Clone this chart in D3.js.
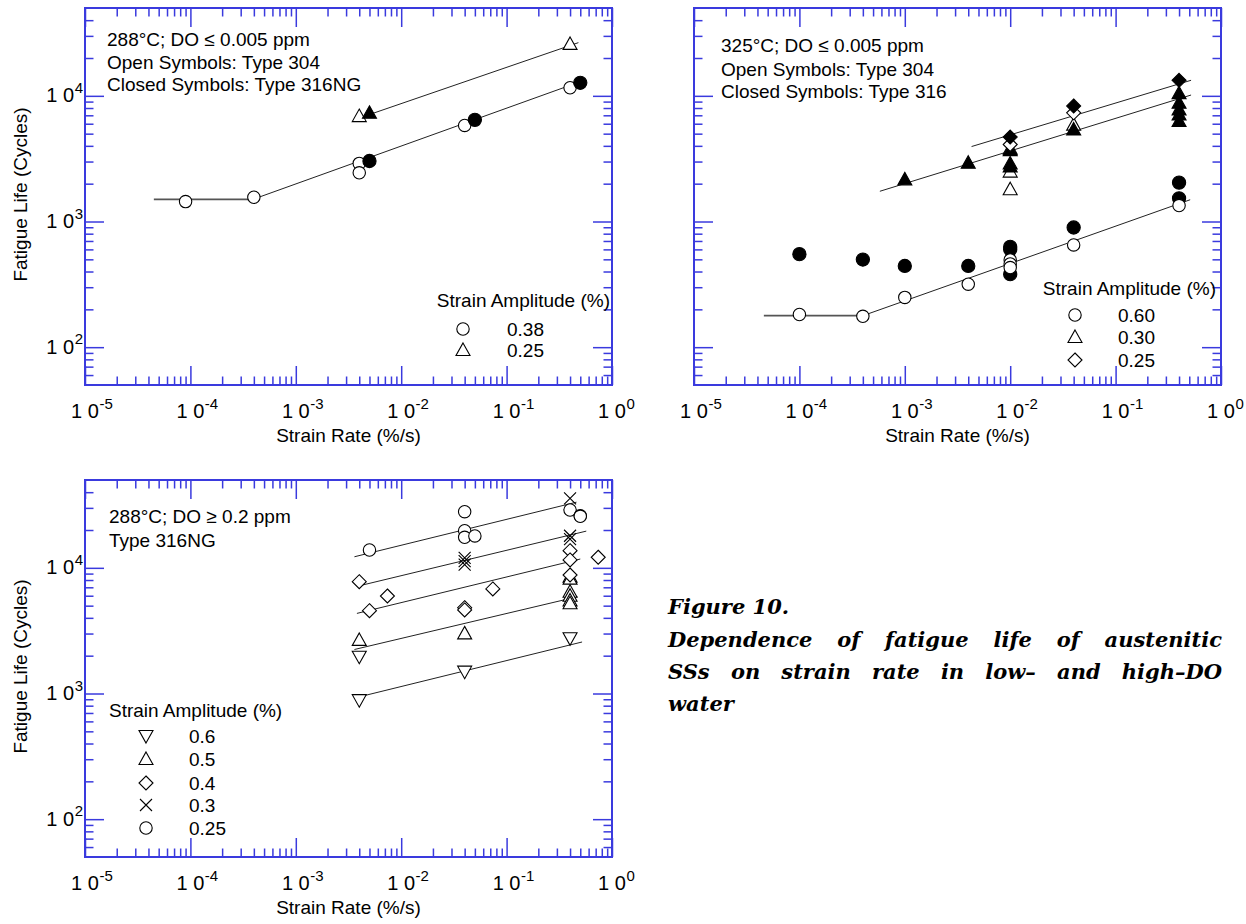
<!DOCTYPE html>
<html><head><meta charset="utf-8">
<script src="https://cdn.jsdelivr.net/npm/d3@7"></script>
<style>body{margin:0;background:#fff} svg{display:block}</style>
</head><body>
<svg id="c" width="1246" height="924"></svg>
<script>
// ---------- tick labels ----------
const xMajor = [1e-5, 1e-4, 1e-3, 1e-2, 1e-1, 1];
const xMajorExp = ['-5', '-4', '-3', '-2', '-1', '0'];
const yMajor = [1e2, 1e3, 1e4];
const yMajorExp = ['2', '3', '4'];

// ---------- Panel A: 288°C, DO <= 0.005 ppm ----------
const A_open_circ = [[9e-5,1440],[4e-4,1560],[4e-3,2900],[4e-3,2440],[0.04,5810],[0.4,11600]];
const A_fill_circ = [[5e-3,3030],[0.05,6440],[0.5,12700]];
const A_open_tri  = [[4e-3,6900],[0.4,25900]];
const A_fill_tri  = [[5e-3,7330]];
const A_flat      = [[4.5e-5,1500],[4e-4,1500]];
const A_fit038    = [[4e-4,1510],[0.48,12800]];
const A_fit025    = [[5e-3,7100],[0.48,26500]];

// ---------- Panel B: 325°C, DO <= 0.005 ppm ----------
const B_open_circ = [[1e-4,182],[4e-4,176],[1e-3,249],[4e-3,317],[0.01,495],[0.01,460],[0.01,430],[0.04,651],[0.4,1340]];
const B_fill_circ = [[1e-4,550],[4e-4,498],[1e-3,443],[4e-3,443],[0.01,628],[0.01,598],[0.01,381],[0.04,896],[0.4,2037],[0.4,1530]];
const B_open_tri  = [[0.01,3800],[0.01,2495],[0.01,1807],[0.04,5900]];
const B_fill_tri  = [[1e-3,2164],[4e-3,2937],[0.01,3700],[0.01,2900],[0.01,2740],[0.04,5400],[0.4,10500],[0.4,8800],[0.4,7800],[0.4,7100],[0.4,6300]];
const B_open_dia  = [[0.01,4100],[0.04,7330]];
const B_fill_dia  = [[0.01,4700],[0.04,8300],[0.4,13300]];
const B_flat      = [[4.6e-5,178],[4e-4,178]];
const B_fit060    = [[4e-4,178],[0.51,1490]];
const B_fit030    = [[5.8e-4,1740],[0.52,10150]];
const B_fit025    = [[4.3e-3,3950],[0.52,13300]];

// ---------- Panel C: 288°C, DO >= 0.2 ppm, Type 316NG ----------
const C_tri_down = [[4e-3,1963],[4e-3,885],[0.04,1492],[0.4,2750]];
const C_tri_up   = [[4e-3,2670],[0.04,3010],[0.4,8510],[0.4,8200],[0.4,6460],[0.4,6000],[0.4,5500],[0.4,5220]];
const C_diamond  = [[4e-3,7760],[5e-3,4560],[7.4e-3,5970],[0.04,4820],[0.04,4620],[0.074,6790],[0.4,13700],[0.4,11560],[0.4,8770],[0.74,12140]];
const C_cross    = [[0.04,12000],[0.04,11300],[0.04,10600],[0.4,35700],[0.4,18000],[0.4,16900]];
const C_circle   = [[5e-3,13870],[0.04,27970],[0.04,19760],[0.04,17500],[0.05,17930],[0.4,28860],[0.5,26000],[0.5,25700]];
const C_fit06  = [[4.2e-3,950],[0.52,2570]];
const C_fit05  = [[3.6e-3,2240],[0.47,5890]];
const C_fit04  = [[3.8e-3,4340],[0.5,11750]];
const C_fit03  = [[4.3e-3,7300],[0.57,19600]];
const C_fit025 = [[3.6e-3,12250],[0.46,33300]];

// ---------- common ----------
const FONT = "'Liberation Sans', Arial, Helvetica, sans-serif";
const BLUE = '#3a3ade';
const xDomain = [1e-5, 1], yDomain = [50, 50000];
const svg = d3.select('#c');

function minorTicks(lo, hi) {
  const out = [];
  for (let e = -6; e <= 5; e++) for (let k = 2; k <= 9; k++) {
    const v = k * Math.pow(10, e);
    if (v > lo * 1.0001 && v < hi * 0.9999) out.push(v);
  }
  return out;
}

function drawSym(g, type, cx, cy, filled) {
  const f = filled ? '#000' : '#fff';
  const st = {stroke:'#000', 'stroke-width':1.1, fill:f};
  let el;
  if (type === 'circle') {
    el = g.append('circle').attr('cx', cx).attr('cy', cy).attr('r', filled ? 6.6 : 6.2);
  } else if (type === 'triUp') {
    el = g.append('path').attr('d', `M${cx},${cy-7}L${cx+7},${cy+5.5}L${cx-7},${cy+5.5}Z`);
  } else if (type === 'triDown') {
    el = g.append('path').attr('d', `M${cx},${cy+7}L${cx+7},${cy-5.5}L${cx-7},${cy-5.5}Z`);
  } else if (type === 'diamond') {
    el = g.append('path').attr('d', `M${cx},${cy-7}L${cx+7},${cy}L${cx},${cy+7}L${cx-7},${cy}Z`);
  } else if (type === 'cross') {
    el = g.append('path').attr('d', `M${cx-6},${cy-6}L${cx+6},${cy+6}M${cx+6},${cy-6}L${cx-6},${cy+6}`);
    st.fill = 'none';
  }
  Object.entries(st).forEach(([k, v]) => el.attr(k, v));
}

function panel(p) {
  const x = d3.scaleLog().domain(xDomain).range([p.left, p.left + p.w]);
  const y = d3.scaleLog().domain(yDomain).range([p.top + p.h, p.top]);
  const g = svg.append('g');
  const xm = minorTicks(1e-5, 1), ym = minorTicks(50, 50000);

  const axes = [
    [d3.axisBottom(x), `translate(0,${p.top + p.h})`, xMajor, xm],
    [d3.axisTop(x), `translate(0,${p.top})`, xMajor, xm],
    [d3.axisLeft(y), `translate(${p.left},0)`, yMajor, ym],
    [d3.axisRight(y), `translate(${p.left + p.w},0)`, yMajor, ym]
  ];
  axes.forEach(([ax, tr, maj, min]) => {
    [[maj, -19], [min, -8.5]].forEach(([vals, sz]) => {
      const a = ax.tickValues(vals).tickSize(sz).tickFormat('');
      const ga = g.append('g').attr('transform', tr).call(a);
      ga.select('.domain').remove();
      ga.selectAll('line').attr('stroke', BLUE).attr('stroke-width', 1.5);
    });
  });
  g.append('rect').attr('x', p.left).attr('y', p.top).attr('width', p.w).attr('height', p.h)
    .attr('fill', 'none').attr('stroke', BLUE).attr('stroke-width', 2);

  // x tick labels
  xMajor.forEach((v, i) => {
    const t = g.append('text').attr('x', x(v)).attr('y', p.top + p.h + 33)
      .attr('text-anchor', 'middle').attr('font-family', FONT).attr('font-size', 20).text('1 0');
    const wd = t.node().getComputedTextLength();
    g.append('text').attr('x', x(v) + wd / 2 + 0.5).attr('y', p.top + p.h + 24)
      .attr('font-family', FONT).attr('font-size', 15).text(xMajorExp[i]);
  });
  g.append('text').attr('x', p.left + p.w / 2).attr('y', p.top + p.h + 57)
    .attr('text-anchor', 'middle').attr('font-family', FONT).attr('font-size', 19).text('Strain Rate (%/s)');

  if (p.yLabels) {
    yMajor.forEach((v, i) => {
      const s = g.append('text').attr('x', p.left - 2).attr('y', y(v) - 3)
        .attr('text-anchor', 'end').attr('font-family', FONT).attr('font-size', 15).text(yMajorExp[i]);
      const sw = s.node().getComputedTextLength();
      g.append('text').attr('x', p.left - 2.5 - sw).attr('y', y(v) + 6.5)
        .attr('text-anchor', 'end').attr('font-family', FONT).attr('font-size', 20).text('1 0');
    });
    g.append('text').attr('transform', `translate(27,${p.top + p.h / 2 - 2}) rotate(-90)`)
      .attr('text-anchor', 'middle').attr('font-family', FONT).attr('font-size', 19).text('Fatigue Life (Cycles)');
  }

  // header text
  p.header.forEach((s, i) => {
    g.append('text').attr('x', p.left + p.hx).attr('y', p.top + p.hy[i])
      .attr('font-family', FONT).attr('font-size', 19).text(s);
  });

  // fit lines
  const line = d3.line().x(d => x(d[0])).y(d => y(d[1]));
  p.lines.forEach(([data, flat]) => {
    g.append('path').attr('d', line(data)).attr('fill', 'none')
      .attr('stroke', flat ? '#555' : '#222').attr('stroke-width', flat ? 1.8 : 1);
  });
  // symbols
  p.series.forEach(([data, type, filled]) => {
    data.forEach(d => drawSym(g, type, x(d[0]), y(d[1]), filled));
  });

  // legend
  const L = p.legend;
  g.append('text').attr('x', L.tx).attr('y', L.ty).attr('text-anchor', L.anchor)
    .attr('font-family', FONT).attr('font-size', 19).text('Strain Amplitude (%)');
  L.items.forEach(([type, label], i) => {
    drawSym(g, type, L.sx, L.sy[i], false);
    g.append('text').attr('x', L.lx).attr('y', L.sy[i] + 6.5)
      .attr('font-family', FONT).attr('font-size', 19).text(label);
  });
}

panel({
  left: 85, top: 8, w: 527, h: 377, yLabels: true,
  header: ['288°C; DO ≤ 0.005 ppm', 'Open Symbols: Type 304', 'Closed Symbols: Type 316NG'],
  hx: 22, hy: [38, 61, 83],
  lines: [[A_flat, true], [A_fit038, false], [A_fit025, false]],
  series: [[A_open_circ, 'circle', false], [A_fill_circ, 'circle', true],
           [A_open_tri, 'triUp', false], [A_fill_tri, 'triUp', true]],
  legend: {tx: 610, ty: 307, anchor: 'end', sx: 463, lx: 507, sy: [329, 350],
           items: [['circle', '0.38'], ['triUp', '0.25']]}
});

panel({
  left: 694, top: 8, w: 527, h: 377, yLabels: false,
  header: ['325°C; DO ≤ 0.005 ppm', 'Open Symbols: Type 304', 'Closed Symbols: Type 316'],
  hx: 27, hy: [44, 68, 90],
  lines: [[B_flat, true], [B_fit060, false], [B_fit030, false], [B_fit025, false]],
  series: [[B_fill_circ, 'circle', true], [B_open_circ, 'circle', false],
           [B_open_tri, 'triUp', false], [B_fill_tri, 'triUp', true],
           [B_open_dia, 'diamond', false], [B_fill_dia, 'diamond', true]],
  legend: {tx: 1216, ty: 295, anchor: 'end', sx: 1075, lx: 1118, sy: [315, 337, 360],
           items: [['circle', '0.60'], ['triUp', '0.30'], ['diamond', '0.25']]}
});

panel({
  left: 85, top: 480, w: 527, h: 377, yLabels: true,
  header: ['288°C; DO ≥ 0.2 ppm', 'Type 316NG'],
  hx: 24, hy: [43, 67],
  lines: [[C_fit06, false], [C_fit05, false], [C_fit04, false], [C_fit03, false], [C_fit025, false]],
  series: [[C_tri_down, 'triDown', false], [C_tri_up, 'triUp', false], [C_diamond, 'diamond', false],
           [C_cross, 'cross', false], [C_circle, 'circle', false]],
  legend: {tx: 109, ty: 717, anchor: 'start', sx: 146, lx: 189, sy: [736, 759, 783, 805, 828],
           items: [['triDown', '0.6'], ['triUp', '0.5'], ['diamond', '0.4'], ['cross', '0.3'], ['circle', '0.25']]}
});

// ---------- caption ----------
const captionTitle = 'Figure 10.';
const captionLines = [
  ['Dependence', 'of', 'fatigue', 'life', 'of', 'austenitic'],
  ['SSs', 'on', 'strain', 'rate', 'in', 'low–', 'and', 'high–DO'],
  ['water']
];
const CF = "'DejaVu Serif', 'Liberation Serif', serif";
const capX0 = 668, capX1 = 1222;
const cap = svg.append('g').attr('font-family', CF).attr('font-style', 'italic')
  .attr('font-weight', 'bold').attr('font-size', 21).attr('fill', '#000');
cap.append('text').attr('x', capX0).attr('y', 614).text(captionTitle);
captionLines.forEach((words, li) => {
  const yy = 647 + li * 32;
  const nodes = words.map(w => cap.append('text').attr('y', yy).text(w));
  const widths = nodes.map(n => n.node().getComputedTextLength());
  const total = d3.sum(widths);
  const justify = li < captionLines.length - 1;
  const gap = justify ? (capX1 - capX0 - total) / (words.length - 1) : 6;
  let cx = capX0;
  nodes.forEach((n, i) => { n.attr('x', cx); cx += widths[i] + gap; });
});
</script>
</body></html>
